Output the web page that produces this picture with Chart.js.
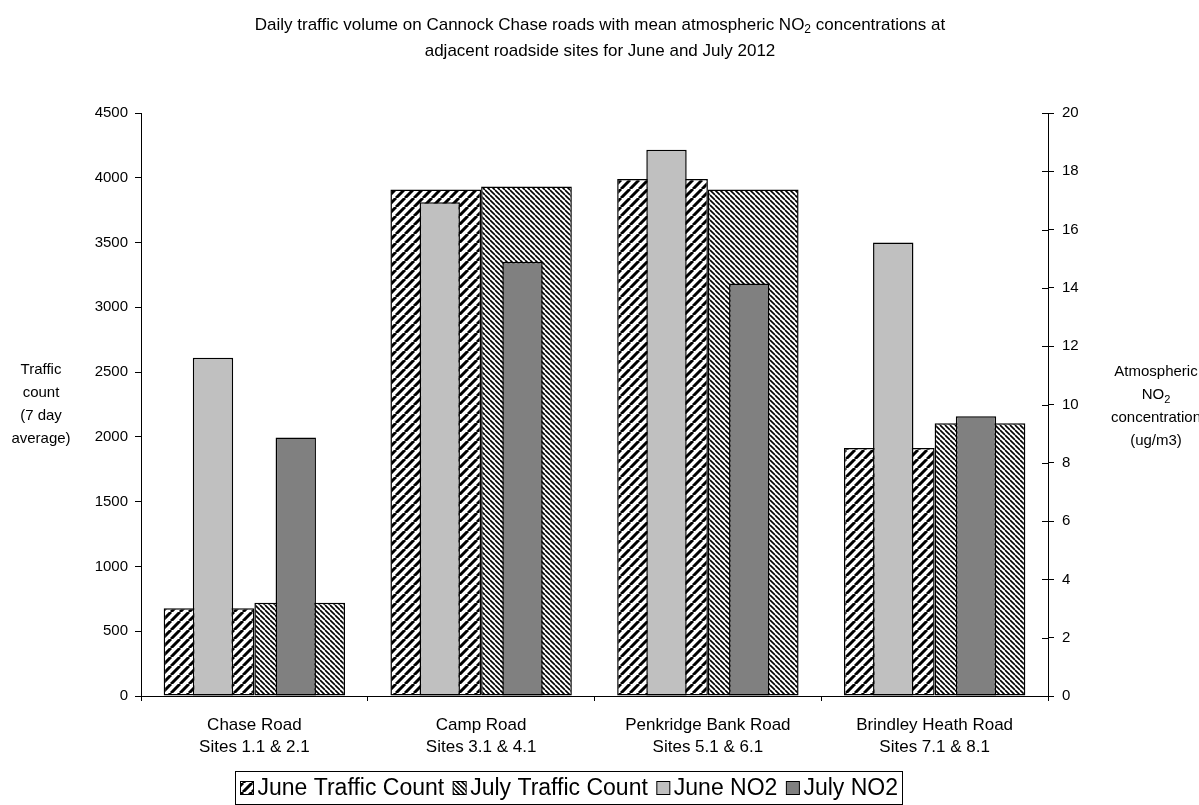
<!DOCTYPE html>
<html>
<head>
<meta charset="utf-8">
<script src="https://cdn.jsdelivr.net/npm/chart.js@4.4.0/dist/chart.umd.min.js"></script>
<style>
  html, body { margin: 0; padding: 0; background: #fff; }
  #wrap { width: 1199px; height: 805px; position: relative; }
</style>
</head>
<body>
<div id="wrap"><canvas id="c" width="1199" height="805"></canvas></div>
<script>
// Road groups (two-line axis labels)
const categories = [
  ["Chase Road", "Sites 1.1 & 2.1"],
  ["Camp Road", "Sites 3.1 & 4.1"],
  ["Penkridge Bank Road", "Sites 5.1 & 6.1"],
  ["Brindley Heath Road", "Sites 7.1 & 8.1"]
];

// 7 day average traffic counts
const juneTraffic = [677, 3909, 3991, 1915];
const julyTraffic = [720, 3933, 3909, 2105];

// Mean NO2 concentrations (ug/m3)
const juneNO2 = [11.6, 16.94, 18.74, 15.56];
const julyNO2 = [8.87, 14.9, 14.15, 9.6];

// Axis ranges [min, max, step]
const trafficAxis = [0, 4500, 500];
const no2Axis = [0, 20, 2];

const seriesNames = ["June Traffic Count", "July Traffic Count", "June NO2", "July NO2"];

const FONT = "'Liberation Sans', Arial, sans-serif";
const canvas = document.getElementById('c');
const ctx = canvas.getContext('2d');

// Diagonal hatch fills
function hatch(size, lw, dir) {
  const t = document.createElement('canvas');
  t.width = t.height = size;
  const g = t.getContext('2d');
  g.fillStyle = '#fff';
  g.fillRect(0, 0, size, size);
  g.strokeStyle = '#000';
  g.lineWidth = lw;
  g.beginPath();
  for (const o of [-size, 0, size]) {
    if (dir === '/') { g.moveTo(o, size); g.lineTo(o + size, 0); }
    else { g.moveTo(o, 0); g.lineTo(o + size, size); }
  }
  g.stroke();
  return ctx.createPattern(t, 'repeat');
}
const juneHatch = hatch(9, 3, '/');
const julyHatch = hatch(5, 1.6, '\\');

// Text with optional subscript parts: array of strings or {sub: "..."}
function partsWidth(g, parts, size) {
  let w = 0;
  for (const p of parts) {
    if (typeof p === 'string') { g.font = size + 'px ' + FONT; w += g.measureText(p).width; }
    else { g.font = Math.round(size * 0.7) + 'px ' + FONT; w += g.measureText(p.sub).width; }
  }
  return w;
}
function drawParts(g, parts, cx, cy, size) {
  let x = cx - partsWidth(g, parts, size) / 2;
  g.textAlign = 'left';
  g.textBaseline = 'middle';
  g.fillStyle = '#000';
  for (const p of parts) {
    if (typeof p === 'string') {
      g.font = size + 'px ' + FONT;
      g.fillText(p, x, cy);
      x += g.measureText(p).width;
    } else {
      g.font = Math.round(size * 0.7) + 'px ' + FONT;
      g.fillText(p.sub, x, cy + size * 0.3);
      x += g.measureText(p.sub).width;
    }
  }
}

const titleLines = [
  ["Daily traffic volume on Cannock Chase roads with mean atmospheric NO", {sub: "2"}, " concentrations at"],
  ["adjacent roadside sites for June and July 2012"]
];
const leftTitle = [["Traffic"], ["count"], ["(7 day"], ["average)"]];
const rightTitle = [["Atmospheric"], ["NO", {sub: "2"}], ["concentration"], ["(ug/m3)"]];

const decorations = {
  id: 'decorations',
  afterDraw(chart) {
    const g = chart.ctx;
    const area = chart.chartArea;
    g.save();
    // chart title
    titleLines.forEach((ln, i) => drawParts(g, ln, 600, 25 + i * 26, 17));
    // axis titles
    const midY = (area.top + area.bottom) / 2;
    leftTitle.forEach((ln, i) => drawParts(g, ln, 41, midY + (i - 1.5) * 23, 15));
    rightTitle.forEach((ln, i) => drawParts(g, ln, 1156, midY + (i - 1.5) * 23 + 2, 15));

    // inner half of the cross tick marks on the right axis
    const y2 = chart.scales.y2;
    g.strokeStyle = '#000';
    g.lineWidth = 1;
    g.beginPath();
    y2.ticks.forEach(t => {
      const py = Math.round(y2.getPixelForValue(t.value)) + 0.5;
      g.moveTo(area.right - 6, py);
      g.lineTo(area.right, py);
    });
    g.stroke();

    // legend
    const fs = 23;
    g.font = fs + 'px ' + FONT;
    const sw = 13, gap = 4, itemGap = 9, pad = 5;
    const items = chart.data.datasets.map(d => ({ label: d.label, fill: d.backgroundColor, w: g.measureText(d.label).width }));
    let total = pad * 2;
    items.forEach((it, i) => { total += sw + gap + it.w + (i < items.length - 1 ? itemGap : 0); });
    const bx = Math.round(569 - total / 2) + 0.5;
    const by = 771.5, bh = 33;
    g.strokeStyle = '#000';
    g.lineWidth = 1;
    g.strokeRect(bx, by, Math.round(total), bh);
    let x = bx + pad;
    const cy = by + bh / 2;
    items.forEach(it => {
      g.fillStyle = it.fill;
      g.fillRect(x, cy - sw / 2, sw, sw);
      g.strokeRect(x, cy - sw / 2, sw, sw);
      x += sw + gap;
      g.fillStyle = '#000';
      g.textAlign = 'left';
      g.textBaseline = 'middle';
      g.fillText(it.label, x, cy + 1);
      x += it.w + itemGap;
    });
    g.restore();
  }
};

const barBase = { borderColor: '#000', borderWidth: 1.5, borderSkipped: false };

new Chart(ctx, {
  type: 'bar',
  data: {
    labels: categories,
    datasets: [
      Object.assign({ label: seriesNames[0], data: juneTraffic, backgroundColor: juneHatch, stack: 'june',
        yAxisID: 'y', categoryPercentage: 0.8, barPercentage: 1.0, order: 1 }, barBase),
      Object.assign({ label: seriesNames[1], data: julyTraffic, backgroundColor: julyHatch, stack: 'july',
        yAxisID: 'y', categoryPercentage: 0.8, barPercentage: 1.0, order: 1 }, barBase),
      Object.assign({ label: seriesNames[2], data: juneNO2, backgroundColor: '#C0C0C0', stack: 'june',
        yAxisID: 'y2', categoryPercentage: 0.73, barPercentage: 0.488, order: 0 }, barBase),
      Object.assign({ label: seriesNames[3], data: julyNO2, backgroundColor: '#808080', stack: 'july',
        yAxisID: 'y2', categoryPercentage: 0.73, barPercentage: 0.488, order: 0 }, barBase)
    ]
  },
  options: {
    responsive: false,
    animation: false,
    layout: { padding: { top: 113, left: 0, right: 0, bottom: 0 } },
    plugins: {
      legend: { display: false },
      title: { display: false },
      tooltip: { enabled: false }
    },
    scales: {
      x: {
        type: 'category',
        position: 'bottom',
        offset: true,
        grid: { offset: true, drawOnChartArea: false, drawTicks: true, tickLength: 5, color: '#000' },
        border: { display: true, color: '#000', width: 1 },
        ticks: { color: '#000', font: { family: FONT, size: 17, lineHeight: 1.3 }, padding: 13, maxRotation: 0, autoSkip: false },
        afterFit(s) { s.height = 109; }
      },
      y: {
        position: 'left',
        stacked: false,
        min: trafficAxis[0], max: trafficAxis[1],
        ticks: { stepSize: trafficAxis[2], color: '#000', font: { family: FONT, size: 15 }, padding: 7,
          callback: v => String(v) },
        grid: { drawOnChartArea: false, drawTicks: true, tickLength: 6, color: '#000' },
        border: { display: true, color: '#000', width: 1 },
        afterFit(s) { s.width = 141; }
      },
      y2: {
        position: 'right',
        stacked: false,
        min: no2Axis[0], max: no2Axis[1],
        ticks: { stepSize: no2Axis[2], color: '#000', font: { family: FONT, size: 15 }, padding: 8,
          callback: v => String(v) },
        grid: { drawOnChartArea: false, drawTicks: true, tickLength: 6, color: '#000' },
        border: { display: true, color: '#000', width: 1 },
        afterFit(s) { s.width = 151; }
      }
    }
  },
  plugins: [decorations]
});
</script>
</body>
</html>
